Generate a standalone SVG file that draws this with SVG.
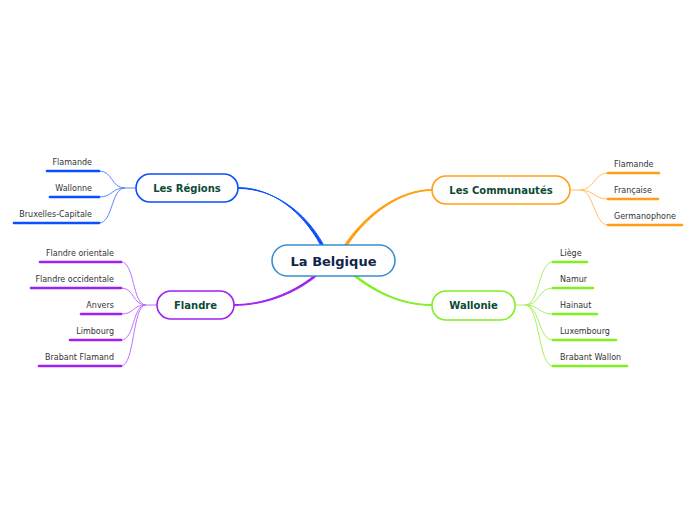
<svg xmlns="http://www.w3.org/2000/svg" width="696" height="520" viewBox="0 0 696 520">
<style>
.node rect{fill:#fff;stroke-width:1.6}
.nt{font-family:"DejaVu Sans",sans-serif;font-weight:bold;font-size:10px;fill:#0c4a38;text-anchor:middle}
.lt{font-family:"DejaVu Sans",sans-serif;font-size:8px;fill:#333}
.r{text-anchor:end}
.thin{fill:none;stroke-width:1}
.ul{stroke-width:2.6;stroke-linecap:round}
.tp{stroke-width:1;stroke-linejoin:round}
</style>
<rect width="696" height="520" fill="#fff"/>
<g id="connectors">
<path class="tp" fill="#0a50ff" stroke="#0a50ff" d="M238,187.6 C272,187.6 302,211 320.6,245 L323.6,245 C305,211 273,188.4 238,188.4 Z"/>
<path class="tp" fill="#ffa014" stroke="#ffa014" d="M432,189.6 C400,189.6 366,213 344.6,245 L347.6,245 C368,214 401,190.4 432,190.4 Z"/>
<path class="tp" fill="#a020f0" stroke="#a020f0" d="M234,304.6 C262,304.6 291,294 313.6,276 L316.6,276 C293,295 263,305.4 234,305.4 Z"/>
<path class="tp" fill="#80f020" stroke="#80f020" d="M432,304.6 C410,304.6 385,298 356.6,276 L353.6,276 C383,298.5 409,305.4 432,305.4 Z"/>
<g stroke="#5a88ff" class="thin">
<path d="M136,188 L125,188"/>
<path d="M125,188 C111,188 113,171 99,171"/>
<path d="M125,188 C111,188 113,197 99,197"/>
<path d="M125,188 C111,188 113,223 99,223"/>
</g>
<g stroke="#ffc060" class="thin">
<path d="M570,190 L580,190"/>
<path d="M580,190 C594,190 594,173 608,173"/>
<path d="M580,190 C594,190 594,199 608,199"/>
<path d="M580,190 C594,190 594,225 608,225"/>
</g>
<g stroke="#c070ff" class="thin">
<path d="M157,305 L146,305"/>
<path d="M146,305 C132,305 135,262 121,262"/>
<path d="M146,305 C132,305 135,288 121,288"/>
<path d="M146,305 C132,305 135,314 121,314"/>
<path d="M146,305 C132,305 135,340 121,340"/>
<path d="M146,305 C132,305 135,366 121,366"/>
</g>
<g stroke="#a8f060" class="thin">
<path d="M515,305 L525,305"/>
<path d="M525,305 C540,305 538,262 553,262"/>
<path d="M525,305 C540,305 538,288 553,288"/>
<path d="M525,305 C540,305 538,314 553,314"/>
<path d="M525,305 C540,305 538,340 553,340"/>
<path d="M525,305 C540,305 538,366 553,366"/>
</g>
</g>
<g id="center" class="node">
<rect x="272" y="245" width="123" height="31" rx="15.5" stroke="#3a8fd0"/>
<text x="333.5" y="265.5" font-family="DejaVu Sans,sans-serif" font-weight="bold" font-size="13" fill="#10254a" text-anchor="middle">La Belgique</text>
</g>
<g id="regions" class="node">
<rect x="136" y="174" width="102" height="28" rx="14" stroke="#0a50ff"/>
<text class="nt" x="187" y="191.5">Les Régions</text>
</g>
<g id="communautes" class="node">
<rect x="432" y="176" width="138" height="28" rx="14" stroke="#ffa014"/>
<text class="nt" x="501" y="193.5">Les Communautés</text>
</g>
<g id="flandre" class="node">
<rect x="157" y="291" width="77" height="28" rx="14" stroke="#a020f0"/>
<text class="nt" x="195.5" y="308.5">Flandre</text>
</g>
<g id="wallonie" class="node">
<rect x="432" y="291" width="83" height="29" rx="14" stroke="#80f020"/>
<text class="nt" x="473.5" y="309">Wallonie</text>
</g>
<g id="reg-flamande"><line class="ul" stroke="#0a50ff" x1="47" y1="171" x2="99" y2="171"/><text class="lt r" x="92" y="165">Flamande</text></g>
<g id="reg-wallonne"><line class="ul" stroke="#0a50ff" x1="50" y1="197" x2="99" y2="197"/><text class="lt r" x="92" y="191">Wallonne</text></g>
<g id="reg-bruxelles"><line class="ul" stroke="#0a50ff" x1="14" y1="223" x2="99" y2="223"/><text class="lt r" x="92" y="217">Bruxelles-Capitale</text></g>
<g id="com-flamande"><line class="ul" stroke="#ffa014" x1="608" y1="173" x2="659" y2="173"/><text class="lt" x="614" y="167">Flamande</text></g>
<g id="com-francaise"><line class="ul" stroke="#ffa014" x1="608" y1="199" x2="658" y2="199"/><text class="lt" x="614" y="193">Française</text></g>
<g id="com-germanophone"><line class="ul" stroke="#ffa014" x1="608" y1="225" x2="682" y2="225"/><text class="lt" x="614" y="219">Germanophone</text></g>
<g id="fl-orientale"><line class="ul" stroke="#a020f0" x1="40" y1="262" x2="121" y2="262"/><text class="lt r" x="114" y="256">Flandre orientale</text></g>
<g id="fl-occidentale"><line class="ul" stroke="#a020f0" x1="31" y1="288" x2="121" y2="288"/><text class="lt r" x="114" y="282">Flandre occidentale</text></g>
<g id="fl-anvers"><line class="ul" stroke="#a020f0" x1="81" y1="314" x2="121" y2="314"/><text class="lt r" x="114" y="308">Anvers</text></g>
<g id="fl-limbourg"><line class="ul" stroke="#a020f0" x1="70" y1="340" x2="121" y2="340"/><text class="lt r" x="114" y="334">Limbourg</text></g>
<g id="fl-brabant"><line class="ul" stroke="#a020f0" x1="39" y1="366" x2="121" y2="366"/><text class="lt r" x="114" y="360">Brabant Flamand</text></g>
<g id="wa-liege"><line class="ul" stroke="#80f020" x1="553" y1="262" x2="587" y2="262"/><text class="lt" x="560" y="256">Liège</text></g>
<g id="wa-namur"><line class="ul" stroke="#80f020" x1="553" y1="288" x2="593" y2="288"/><text class="lt" x="560" y="282">Namur</text></g>
<g id="wa-hainaut"><line class="ul" stroke="#80f020" x1="553" y1="314" x2="597" y2="314"/><text class="lt" x="560" y="308">Hainaut</text></g>
<g id="wa-luxembourg"><line class="ul" stroke="#80f020" x1="553" y1="340" x2="616" y2="340"/><text class="lt" x="560" y="334">Luxembourg</text></g>
<g id="wa-brabant"><line class="ul" stroke="#80f020" x1="553" y1="366" x2="627" y2="366"/><text class="lt" x="560" y="360">Brabant Wallon</text></g>
</svg>
